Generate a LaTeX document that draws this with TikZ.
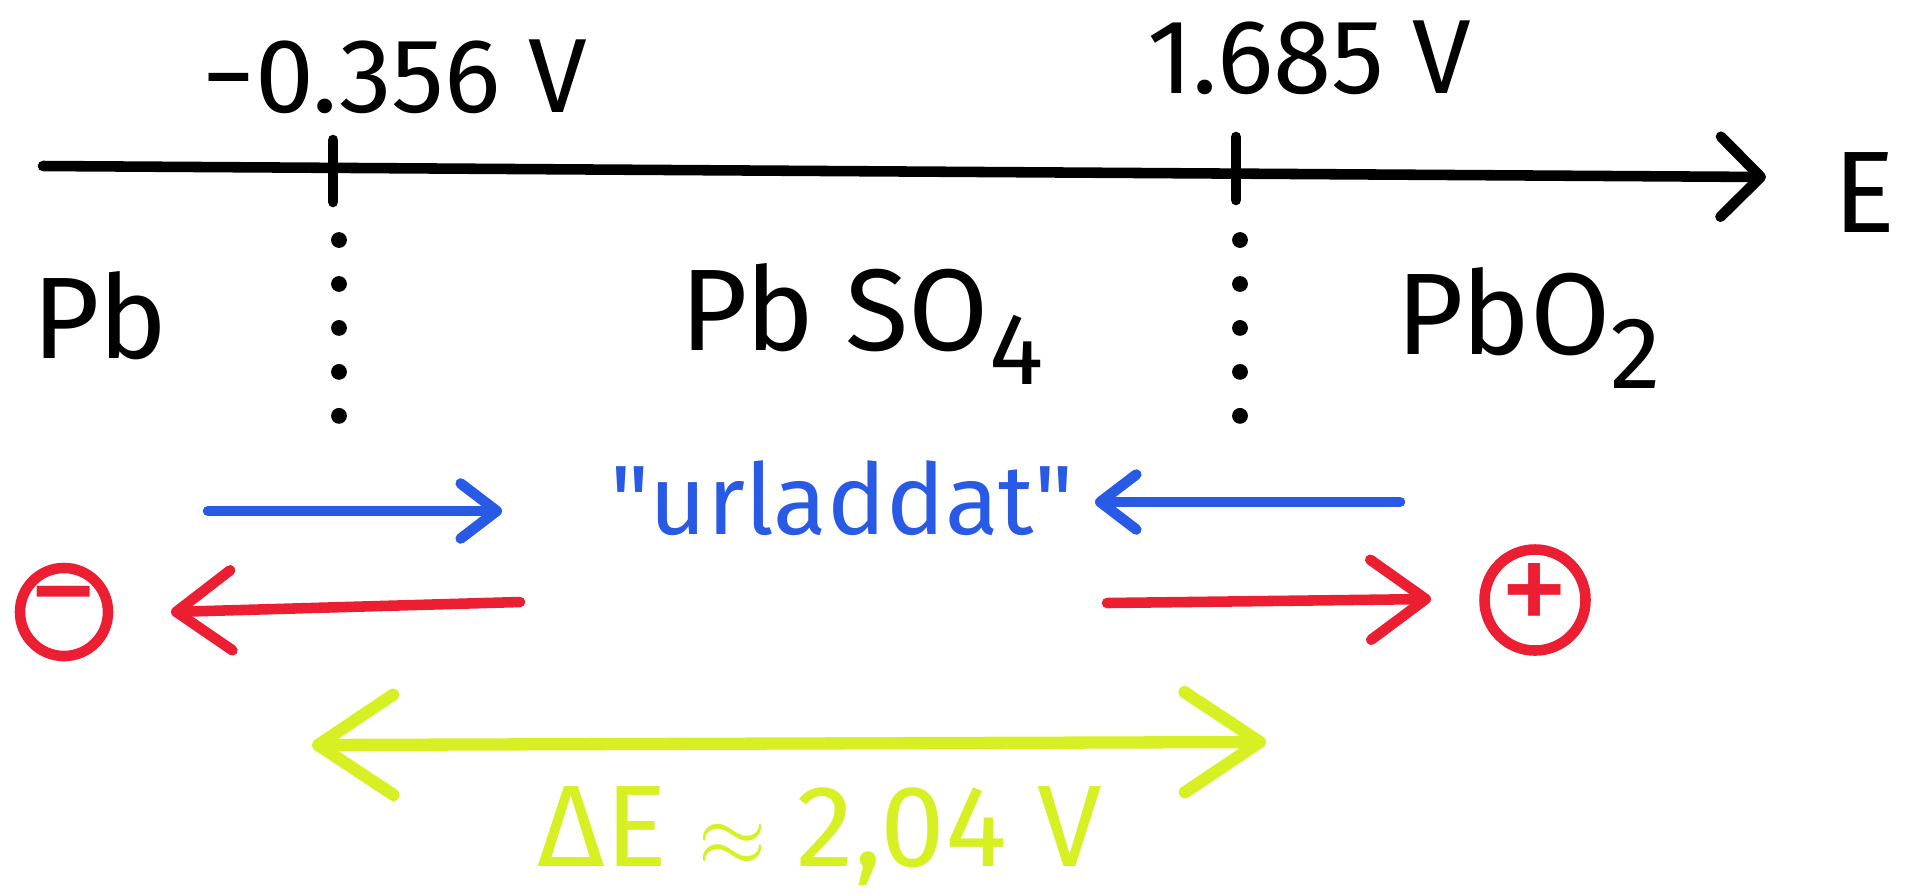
\documentclass[tikz,border=0pt]{standalone}
\usepackage{fontspec}
\setmainfont{Fira Sans}
\usetikzlibrary{arrows.meta,positioning,calc}
\definecolor{penblue}{RGB}{40,90,230}
\definecolor{penred}{RGB}{235,30,50}
\definecolor{penyellow}{RGB}{215,240,35}
\tikzset{every picture/.style={line width=0.75pt}}
\newcommand{\lowdigit}[1]{\raisebox{-0.3em}{\fontsize{29}{30}\selectfont #1}}

\begin{document}
\begin{tikzpicture}[x=0.01cm, y=-0.01cm,
    pen/.style={line width=3pt, line cap=round, line join=round},
    bigtext/.style={font=\fontsize{33}{36}\selectfont, inner sep=0pt},
    volttext/.style={font=\fontsize{30}{32}\selectfont, inner sep=0pt},
    smallbarb/.style={-{Straight Barb[length=0.36cm, width=0.55cm, round]}},
    redbarb/.style={-{Straight Barb[length=0.55cm, width=0.8cm, round]}},
    bigbarb/.style={{Straight Barb[length=0.75cm, width=1.0cm, round]}-{Straight Barb[length=0.75cm, width=1.0cm, round]}},
    sign/.style={circle, draw=penred, text=penred, line width=3pt, minimum size=0.88cm, inner sep=0pt, font=\fontsize{40}{40}\selectfont}]
    \useasboundingbox (0,0) rectangle (1918,893);

    % potential axis
    \coordinate (axstart) at (43,166);
    \coordinate (axend) at (1766,177);
    \draw[pen, -{Straight Barb[length=0.4cm, width=0.8cm, round]}] (axstart) -- (axend);
    \node[bigtext] (elabel) at (1865,193) {E};

    % the two potentials
    \draw[pen] (333,140) -- (333,202);
    \draw[pen] (1236,137) -- (1236,200);
    \node[volttext] (voltpb) at (395,77) {−0.356 V};
    \node[volttext] (voltpbo) at (1309,58) {1.685 V};

    % dotted borders
    \draw[line width=4.5pt, line cap=round, dash pattern=on 0pt off 12.5pt] (339,240) -- (339,422);
    \draw[line width=4.5pt, line cap=round, dash pattern=on 0pt off 12.5pt] (1240,240) -- (1240,422);

    % the three compounds
    \node[bigtext] (pb) at (100,316) {Pb};
    \node[bigtext] (pbso) at (862,324) {Pb SO\lowdigit{4}};
    \node[bigtext] (pbo) at (1529,328) {PbO\lowdigit{2}};

    % discharge
    \node[volttext, text=penblue, font=\fontsize{28}{30}\selectfont] (urladd) at (842,498) {\textquotedbl urladdat\textquotedbl};
    \coordinate (bluea) at (208,511);
    \coordinate (blueb) at (502,511);
    \coordinate (bluec) at (1400,502);
    \coordinate (blued) at (1095,502);
    \draw[pen, penblue, smallbarb] (bluea) -- (blueb);
    \draw[pen, penblue, smallbarb] (bluec) -- (blued);

    % charge
    \node[sign] (minus) at (64,612) {−};
    \node[sign] (plus) at (1535,600) {+};
    \coordinate (reda) at (520,602);
    \coordinate (redb) at (171,612);
    \coordinate (redc) at (1107,603);
    \coordinate (redd) at (1431,599);
    \draw[pen, penred, redbarb] (reda) -- (redb);
    \draw[pen, penred, redbarb] (redc) -- (redd);

    % cell voltage
    \coordinate (yela) at (312,745);
    \coordinate (yelb) at (1266,742);
    \draw[pen, penyellow, line width=3.5pt, bigbarb] (yela) -- (yelb);
    \node[bigtext, text=penyellow, font=\fontsize{33}{36}\selectfont] (deltae) at (820,836) {ΔE $\approx$ 2,04 V};
\end{tikzpicture}
\end{document}
